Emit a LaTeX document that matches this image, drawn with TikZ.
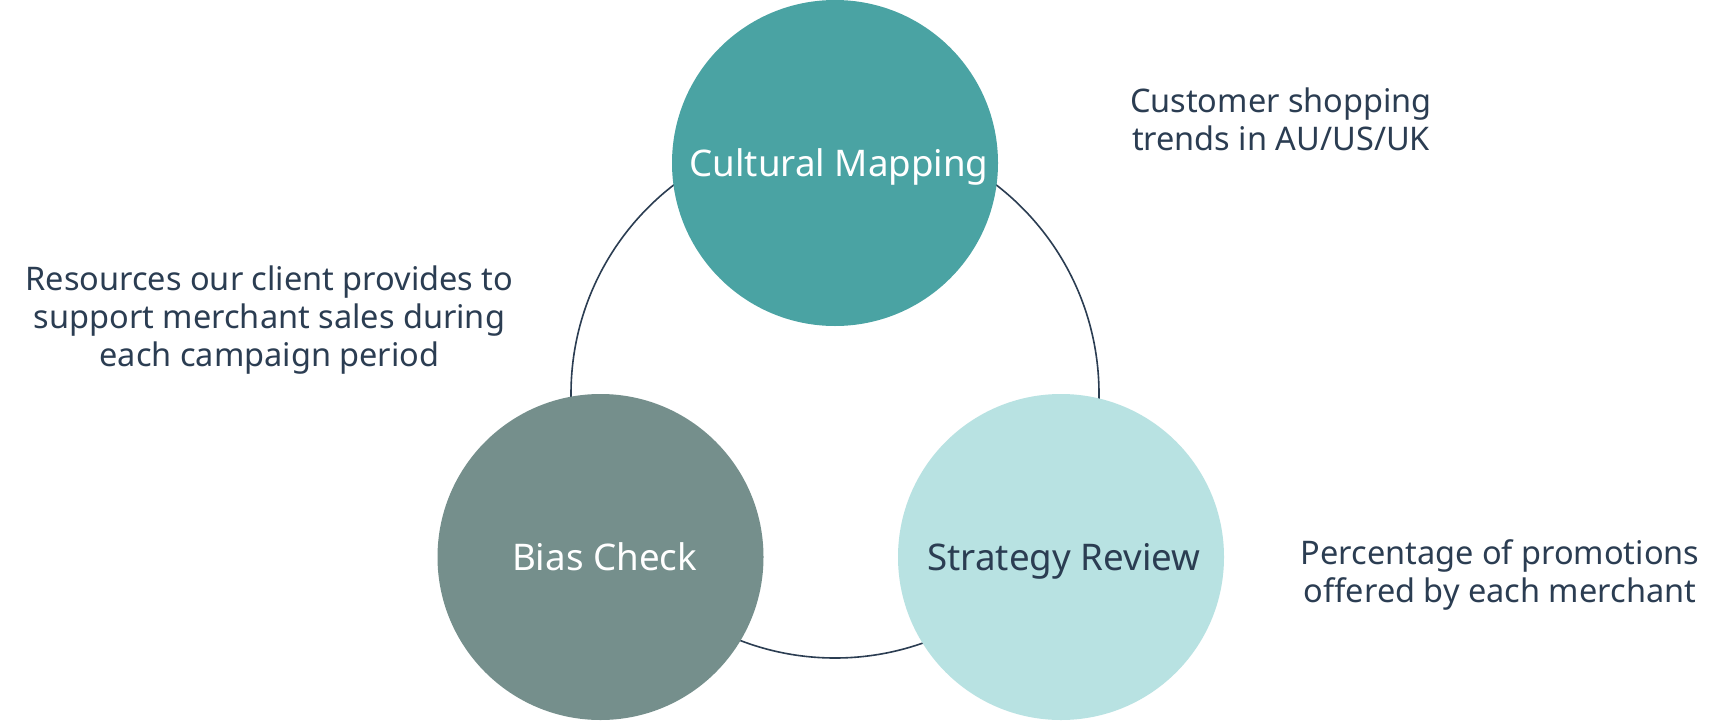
\documentclass[tikz,border=0pt]{standalone}
\usepackage{fontspec}
\setmainfont{Noto Sans}
\definecolor{ink}{HTML}{2B3D52}
\definecolor{tealA}{HTML}{4AA3A3}
\definecolor{greyT}{HTML}{758F8C}
\definecolor{paleT}{HTML}{B8E2E2}
\tikzset{
  bubble/.style={circle, inner sep=0pt, minimum size=326pt, text height=26pt, text depth=0pt,
                 font=\fontsize{36.7}{40}\selectfont},
  note/.style={align=center, inner sep=0pt, text=ink, font=\fontsize{32.5}{38}\selectfont},
  ringline/.style={draw=ink, line width=1.6pt}
}
\begin{document}
\begin{tikzpicture}[x=1pt,y=-1pt]
\useasboundingbox[fill=white] (0,0) rectangle (1718,720);
\coordinate (ring) at (835,394);
\draw[ringline] (ring) circle[radius=264pt];
\node[bubble, fill=tealA, text=white] (cm) at (835,163) {\hspace*{8pt}Cultural Mapping};
\node[bubble, fill=greyT, text=white] (bc) at (600.5,557) {\hspace*{8pt}Bias Check};
\node[bubble, fill=paleT, text=ink] (sr) at (1061,557) {\hspace*{6pt}Strategy Review};
\node[note] (n1) at (1281,119) {Customer shopping\\trends in AU/US/UK};
\node[note] (n2) at (269.5,320) {Resources our client provides to\\support merchant sales during\\each campaign period};
\node[note] (n3) at (1500,575) {Percentage of promotions\\offered by each merchant};
\end{tikzpicture}
\end{document}
